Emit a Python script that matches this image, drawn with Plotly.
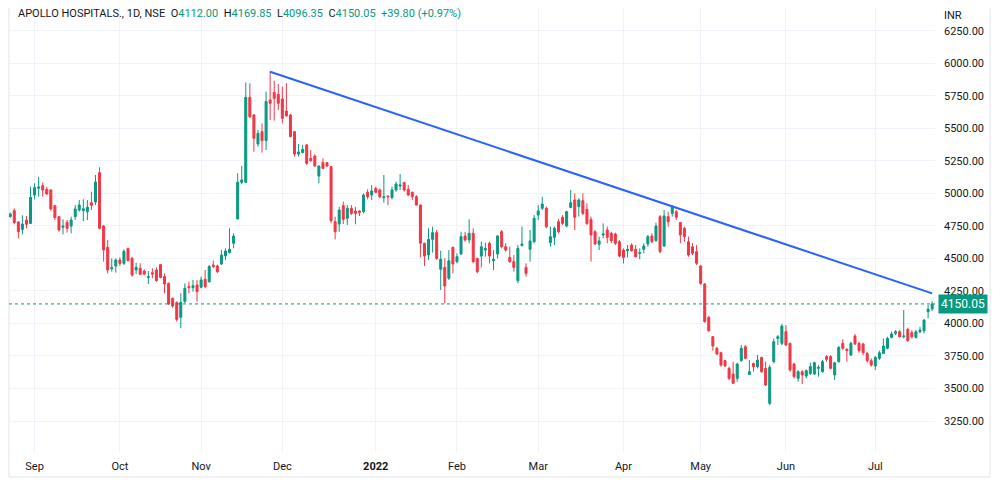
import pandas as pd
import plotly.graph_objects as go

# NSE daily candles, 24 Aug 2021 .. 21 Jul 2022
start_date = "2021-08-24"
end_date = "2022-07-21"
holidays = ["2021-09-10", "2021-10-15", "2021-11-05", "2021-11-19", "2022-01-26",
            "2022-03-01", "2022-03-18", "2022-04-14", "2022-04-15", "2022-05-03"]

opens = [
    4821, 4867, 4780, 4723, 4795, 4769, 4987, 5039, 5059, 5031,
    5026, 4905, 4821, 4739, 4777, 4749, 4821, 4872, 4867, 4859,
    4928, 4933, 5159, 4749, 4585, 4421, 4442, 4488, 4462, 4577,
    4500, 4411, 4424, 4403, 4354, 4390, 4411, 4452, 4360, 4308,
    4193, 4160, 4047, 4168, 4283, 4275, 4296, 4278, 4339, 4321,
    4449, 4442, 4457, 4519, 4544, 4616, 4803, 5085, 5085, 5738,
    5602, 5379, 5474, 5405, 5718, 5776, 5761, 5725, 5633, 5602,
    5474, 5302, 5313, 5372, 5269, 5287, 5133, 5236, 5236, 5205,
    4782, 4764, 4905, 4808, 4885, 4864, 4864, 4859, 5008, 4987,
    5038, 5026, 4967, 4979, 4967, 5026, 5056, 5082, 5031, 5008,
    4974, 4910, 4616, 4526, 4646, 4698, 4416, 4431, 4347, 4585,
    4475, 4534, 4672, 4641, 4693, 4500, 4518, 4564, 4616, 4482,
    4534, 4705, 4590, 4508, 4475, 4329, 4600, 4431, 4570, 4628,
    4833, 4885, 4885, 4621, 4662, 4782, 4816, 4749, 4892, 4949,
    4898, 4944, 4877, 4800, 4705, 4608, 4680, 4718, 4693, 4687,
    4628, 4564, 4559, 4603, 4570, 4539, 4570, 4611, 4672, 4636,
    4821, 4595, 4821, 4846, 4859, 4775, 4731, 4628, 4590, 4552,
    4441, 4303, 4047, 3898, 3809, 3775, 3714, 3655, 3611, 3578,
    3714, 3821, 3609, 3693, 3668, 3739, 3655, 3386, 3706, 3885,
    3847, 3937, 3847, 3688, 3578, 3629, 3596, 3616, 3611, 3655,
    3629, 3745, 3745, 3604, 3706, 3847, 3801, 3757, 3903, 3847,
    3842, 3770, 3714, 3673, 3732, 3770, 3809, 3893, 3924, 3937,
    3898, 3955, 3929, 3893, 3937, 3944, 4090, 4112.00,
]
highs = [
    4852, 4885, 4785, 4831, 4826, 5051, 5077, 5128, 5082, 5051,
    5031, 4910, 4826, 4800, 4795, 4821, 4910, 4949, 4954, 4949,
    5013, 5141, 5200, 4757, 4641, 4500, 4500, 4508, 4570, 4582,
    4513, 4467, 4462, 4416, 4403, 4424, 4431, 4457, 4385, 4315,
    4200, 4170, 4232, 4308, 4321, 4334, 4334, 4360, 4411, 4449,
    4483, 4452, 4565, 4577, 4731, 4693, 5154, 5210, 5851, 5846,
    5610, 5487, 5538, 5782, 5940, 5866, 5840, 5820, 5846, 5610,
    5480, 5379, 5372, 5380, 5333, 5300, 5215, 5269, 5240, 5210,
    4820, 4897, 4936, 4910, 4910, 4897, 4870, 5000, 5031, 5064,
    5051, 5038, 5141, 4985, 5051, 5090, 5148, 5090, 5064, 5013,
    4987, 4915, 4620, 4731, 4744, 4718, 4559, 4500, 4564, 4590,
    4539, 4705, 4705, 4800, 4731, 4505, 4628, 4621, 4628, 4564,
    4680, 4718, 4616, 4590, 4526, 4603, 4744, 4462, 4718, 4833,
    4910, 4974, 4898, 4744, 4744, 4800, 4833, 4867, 5026, 5000,
    4962, 5000, 4923, 4821, 4718, 4667, 4769, 4744, 4705, 4698,
    4641, 4577, 4603, 4616, 4603, 4577, 4616, 4680, 4693, 4775,
    4833, 4872, 4859, 4910, 4872, 4782, 4744, 4667, 4616, 4603,
    4449, 4310, 4057, 3903, 3821, 3783, 3719, 3668, 3706, 3698,
    3834, 3834, 3719, 3698, 3757, 3745, 3706, 3680, 3885, 3911,
    3996, 3988, 3852, 3698, 3642, 3642, 3647, 3698, 3706, 3680,
    3719, 3757, 3757, 3706, 3826, 3878, 3809, 3860, 3919, 3860,
    3852, 3783, 3732, 3750, 3791, 3885, 3898, 3937, 3949, 3949,
    4103, 3968, 3949, 3949, 3975, 4032, 4142, 4169.85,
]
lows = [
    4813, 4762, 4654, 4685, 4731, 4765, 4954, 4974, 4974, 4987,
    4867, 4795, 4705, 4685, 4698, 4693, 4795, 4859, 4787, 4795,
    4872, 4910, 4723, 4475, 4385, 4398, 4390, 4442, 4449, 4475,
    4360, 4380, 4372, 4372, 4303, 4347, 4321, 4347, 4231, 4142,
    4120, 4014, 3963, 4155, 4232, 4244, 4168, 4270, 4270, 4314,
    4424, 4385, 4449, 4488, 4539, 4577, 4800, 5072, 5080, 5577,
    5320, 5359, 5313, 5333, 5564, 5559, 5641, 5538, 5589, 5431,
    5282, 5282, 5308, 5218, 5244, 5205, 5077, 5185, 5205, 4770,
    4646, 4705, 4764, 4757, 4833, 4762, 4826, 4846, 4954, 4949,
    5000, 4962, 4928, 4910, 4954, 5013, 5026, 5013, 4980, 4949,
    4905, 4508, 4441, 4488, 4544, 4488, 4257, 4154, 4334, 4385,
    4462, 4526, 4628, 4616, 4462, 4385, 4431, 4513, 4462, 4411,
    4500, 4577, 4552, 4467, 4398, 4308, 4590, 4360, 4475, 4616,
    4795, 4872, 4731, 4590, 4603, 4693, 4757, 4739, 4885, 4718,
    4821, 4833, 4757, 4475, 4603, 4564, 4654, 4616, 4616, 4603,
    4508, 4462, 4508, 4552, 4508, 4493, 4539, 4590, 4616, 4628,
    4539, 4590, 4744, 4821, 4795, 4616, 4628, 4513, 4526, 4449,
    4295, 4006, 3937, 3791, 3757, 3668, 3668, 3565, 3534, 3552,
    3706, 3724, 3604, 3629, 3655, 3621, 3519, 3373, 3693, 3834,
    3834, 3826, 3629, 3578, 3552, 3534, 3578, 3604, 3604, 3591,
    3621, 3706, 3647, 3565, 3698, 3796, 3706, 3750, 3834, 3775,
    3757, 3698, 3668, 3642, 3719, 3765, 3801, 3885, 3911, 3893,
    3885, 3860, 3885, 3885, 3924, 3924, 4039, 4096.35,
]
closes = [
    4841, 4775, 4705, 4764, 4762, 4969, 5044, 5049, 5026, 4995,
    4880, 4813, 4718, 4749, 4731, 4795, 4880, 4910, 4882, 4893,
    4908, 5087, 4731, 4565, 4411, 4429, 4488, 4462, 4554, 4483,
    4372, 4431, 4378, 4378, 4360, 4380, 4329, 4354, 4303, 4150,
    4134, 4032, 4162, 4270, 4275, 4290, 4244, 4334, 4283, 4437,
    4437, 4398, 4526, 4557, 4570, 4672, 5085, 5103, 5738, 5589,
    5423, 5461, 5405, 5705, 5692, 5730, 5692, 5577, 5595, 5436,
    5302, 5318, 5338, 5231, 5251, 5210, 5210, 5192, 5210, 4790,
    4705, 4872, 4800, 4885, 4846, 4846, 4854, 4987, 4974, 5018,
    5008, 4974, 4974, 4974, 5026, 5072, 5064, 5026, 4987, 4974,
    4910, 4616, 4518, 4646, 4698, 4500, 4493, 4288, 4482, 4457,
    4513, 4667, 4641, 4693, 4475, 4398, 4590, 4577, 4518, 4493,
    4672, 4590, 4564, 4475, 4431, 4577, 4611, 4385, 4634, 4808,
    4864, 4918, 4744, 4667, 4731, 4705, 4769, 4859, 4928, 4816,
    4949, 4846, 4769, 4680, 4611, 4634, 4687, 4662, 4636, 4616,
    4518, 4508, 4570, 4559, 4513, 4544, 4595, 4667, 4628, 4749,
    4552, 4826, 4782, 4892, 4816, 4680, 4667, 4526, 4539, 4462,
    4308, 4014, 3944, 3826, 3765, 3680, 3673, 3578, 3540, 3688,
    3809, 3732, 3629, 3668, 3719, 3629, 3527, 3663, 3860, 3898,
    3980, 3834, 3642, 3591, 3629, 3604, 3637, 3668, 3698, 3663,
    3706, 3724, 3655, 3698, 3816, 3809, 3791, 3847, 3842, 3791,
    3775, 3714, 3680, 3739, 3775, 3826, 3885, 3919, 3937, 3898,
    3903, 3868, 3898, 3937, 3949, 4026, 4110.25, 4150.05,
]

# hand-drawn trend line (two anchors)
trend_dates = ["2021-11-26", "2022-07-21"]
trend_values = [5935, 4231]

tick_dates = ["2021-09-01", "2021-10-01", "2021-11-01", "2021-12-01", "2022-01-03", "2022-02-01",
              "2022-03-02", "2022-04-01", "2022-05-02", "2022-06-01", "2022-07-01"]
tick_text = ["Sep", "Oct", "Nov", "Dec", "<b>2022</b>", "Feb", "Mar", "Apr", "May", "Jun", "Jul"]

UP = "#089981"
DOWN = "#F23645"
TEXT = "#131722"
GRID = "#f0f3fa"
FONT = "Roboto, Open Sans, sans-serif"

days = pd.bdate_range(start_date, end_date)
days = days[~days.isin(pd.to_datetime(holidays))]
dates = [d.strftime("%Y-%m-%d") for d in days]

fig = go.Figure()
fig.add_trace(go.Candlestick(
    x=dates, open=opens, high=highs, low=lows, close=closes,
    increasing={"line": {"color": UP, "width": 1}, "fillcolor": UP},
    decreasing={"line": {"color": DOWN, "width": 1}, "fillcolor": DOWN},
    hoverinfo="skip", showlegend=False,
))
fig.add_trace(go.Scatter(
    x=trend_dates, y=trend_values, mode="lines",
    line={"color": "#2962FF", "width": 2}, hoverinfo="skip", showlegend=False,
))

last = closes[-1]
chg = last - closes[-2]
fig.add_hline(y=last, line={"color": UP, "width": 1, "dash": "dot"})

sp = "&nbsp;&nbsp;"
header = (
    f'<span style="color:{TEXT}">APOLLO HOSPITALS., 1D, NSE</span>{sp}'
    f'<span style="color:{TEXT}">O</span><span style="color:{UP}">{opens[-1]:.2f}</span>{sp}'
    f'<span style="color:{TEXT}">H</span><span style="color:{UP}">{highs[-1]:.2f}</span>{sp}'
    f'<span style="color:{TEXT}">L</span><span style="color:{UP}">{lows[-1]:.2f}</span>{sp}'
    f'<span style="color:{TEXT}">C</span><span style="color:{UP}">{last:.2f}</span>{sp}'
    f'<span style="color:{UP}">{chg:+.2f} ({chg / closes[-2] * 100:+.2f}%)</span>'
)
# the page body adds an 8px offset, so the figure is 992x474 and sits at (8, 8)
fig.add_annotation(text=header, xref="paper", yref="paper", x=0.0076, y=0.9887,
                   xanchor="left", yanchor="middle", showarrow=False,
                   font={"family": FONT, "size": 11, "color": TEXT})
fig.add_annotation(text="INR", xref="paper", yref="paper", x=1.0086, y=1.0,
                   xanchor="left", yanchor="top", showarrow=False, borderpad=0,
                   font={"family": FONT, "size": 11, "color": TEXT})
fig.add_annotation(text=f"{last:.2f}", xref="paper", yref="y", x=1.003, y=last,
                   xanchor="left", yanchor="middle", showarrow=False,
                   bgcolor=UP, borderpad=2,
                   font={"family": FONT, "size": 12, "color": "white"})

# widget frame (left, bottom, right)
fig.add_shape(type="rect", xref="paper", yref="paper", x0=0, x1=1.0594,
              y0=-0.0563, y1=1.2, line={"color": "#e0e3eb", "width": 1}, layer="below")

fig.update_layout(
    width=992, height=474,
    margin={"l": 1, "r": 65, "t": 0, "b": 30},
    paper_bgcolor="white", plot_bgcolor="white",
    font={"family": FONT, "size": 11, "color": TEXT},
    xaxis={
        "type": "category", "range": [-0.3, 227.7],
        "tickmode": "array", "tickvals": tick_dates, "ticktext": tick_text,
        "showgrid": True, "gridcolor": GRID, "zeroline": False, "showline": False,
        "ticks": "", "tickangle": 0, "rangeslider": {"visible": False},
        "ticklabelstandoff": 6, "tickfont": {"size": 11, "color": TEXT},
    },
    yaxis={
        "side": "right", "range": [3012, 6424.5], "tick0": 0, "dtick": 250,
        "tickformat": ".2f", "showgrid": True, "gridcolor": GRID,
        "zeroline": False, "showline": False, "ticks": "",
        "ticklabelstandoff": 8, "tickfont": {"size": 11, "color": TEXT},
    },
)

fig.write_html("out.html")
